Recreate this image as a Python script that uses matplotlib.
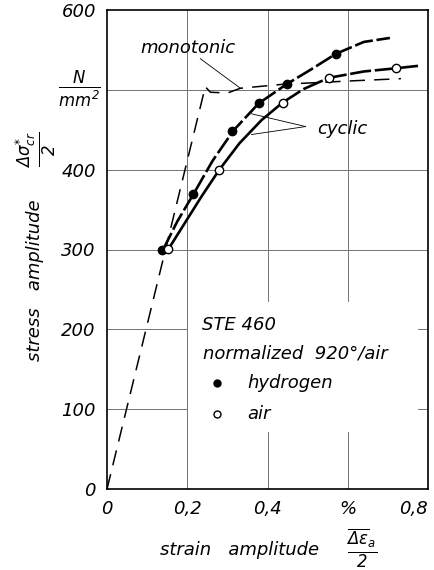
import matplotlib
matplotlib.use("Agg")
import matplotlib.pyplot as plt

plt.rcParams['font.family'] = ['DejaVu Sans']
plt.rcParams['font.style'] = 'italic'
plt.rcParams['mathtext.fontset'] = 'custom'
plt.rcParams['mathtext.rm'] = 'DejaVu Sans:italic'
plt.rcParams['mathtext.it'] = 'DejaVu Sans:italic'
plt.rcParams['mathtext.sf'] = 'DejaVu Sans:italic'

# ---- data ----
hydrogen_x = [0.1375, 0.215, 0.3125, 0.378, 0.4475, 0.57]
hydrogen_y = [299, 369, 448, 483, 507, 545]
air_x = [0.1525, 0.28, 0.4375, 0.5525, 0.72]
air_y = [301, 400, 484, 515, 527]

hydrogen_curve_x = [0.14, 0.175, 0.215, 0.263, 0.315, 0.378, 0.4475, 0.51, 0.57, 0.64, 0.705]
hydrogen_curve_y = [300, 335, 369, 411, 449, 483, 507, 526, 545, 560, 565]
air_curve_x = [0.1525, 0.19, 0.235, 0.28, 0.33, 0.385, 0.4375, 0.49, 0.5525, 0.64, 0.72, 0.775]
air_curve_y = [300, 330, 366, 400, 433, 462, 484, 501, 515, 523, 527, 530]
mono_x = [0.0, 0.245, 0.2575, 0.3, 0.3325, 0.44, 0.6, 0.7325]
mono_y = [0, 504, 497, 496, 502, 507, 511, 514]

x_ticks = [0, 0.2, 0.4, 0.6, 0.8]
x_tick_labels = ['0', '0,2', '0,4', '%', '0,8']
y_ticks = [0, 100, 200, 300, 400, 500, 600]
y_tick_labels = ['0', '100', '200', '300', '400', '', '600']

W, H = 435, 570
fig = plt.figure(figsize=(W / 100, H / 100), dpi=100)
ax = fig.add_axes([107 / W, (H - 489) / H, (428 - 107) / W, (489 - 10) / H])
ax.set_xlim(0, 0.8)
ax.set_ylim(0, 600)

# grid (with gaps like the reference)
gc, gw = '0.45', 0.7
for yv in [300, 400, 500]:
    ax.plot([0, 0.8], [yv, yv], color=gc, lw=gw, zorder=1)
for yv in [100, 200]:
    ax.plot([0, 0.2], [yv, yv], color=gc, lw=gw, zorder=1)
    ax.plot([0.775, 0.8], [yv, yv], color=gc, lw=gw, zorder=1)
ax.plot([0.2, 0.2], [0, 600], color=gc, lw=gw, zorder=1)
for xv in [0.4, 0.6]:
    ax.plot([xv, xv], [236, 600], color=gc, lw=gw, zorder=1)
    ax.plot([xv, xv], [0, 71], color=gc, lw=gw, zorder=1)

# monotonic curve
ax.plot(mono_x, mono_y, color='black', lw=1.1, dashes=(10, 6), zorder=2)

# cyclic curves
ax.plot(hydrogen_curve_x, hydrogen_curve_y, color='black', lw=1.9,
        dashes=(7, 1.4), zorder=3)
split = 7
ax.plot(air_curve_x[:split], air_curve_y[:split], color='black', lw=1.9,
        solid_capstyle='butt', zorder=3)
ax.plot(air_curve_x[split - 1:], air_curve_y[split - 1:], color='black', lw=1.9,
        dashes=(8, 1.4), zorder=3)

ax.plot(hydrogen_x, hydrogen_y, 'o', color='black', ms=6, zorder=4)
ax.plot(air_x, air_y, 'o', mfc='white', mec='black', mew=1.0, ms=6, zorder=4)

# annotations
ax.text(0.0825, 552, 'monotonic', fontsize=13, va='center', ha='left')
ax.plot([0.2325, 0.3325], [539, 502], color='black', lw=0.6, zorder=2)
ax.text(0.525, 451, 'cyclic', fontsize=13, va='center', ha='left')
ax.plot([0.495, 0.36], [454, 470], color='black', lw=0.6, zorder=2)
ax.plot([0.495, 0.36], [454, 444], color='black', lw=0.6, zorder=2)

# legend text
ax.text(0.2375, 205, 'STE 460', fontsize=13, va='center', ha='left')
ax.text(0.24, 170, 'normalized  920°/air', fontsize=13, va='center', ha='left')
ax.plot([0.275], [132.5], 'o', color='black', ms=5)
ax.text(0.35, 132.5, 'hydrogen', fontsize=13, va='center', ha='left')
ax.plot([0.275], [94], 'o', mfc='white', mec='black', mew=1.0, ms=5)
ax.text(0.35, 94, 'air', fontsize=13, va='center', ha='left')

# ticks
ax.set_xticks(x_ticks)
ax.set_xticklabels(x_tick_labels, fontsize=13)
ax.get_xticklabels()[-1].set_horizontalalignment('right')
ax.set_yticks(y_ticks)
ax.set_yticklabels(y_tick_labels, fontsize=13)
ax.tick_params(length=0, pad=8)
for s in ax.spines.values():
    s.set_linewidth(1.2)

# unit label
fig.text(79 / W, 1 - 89 / H, r'$\frac{N}{mm^2}$', fontsize=17, ha='center', va='center')

# y label
fig.text(35 / W, 1 - 280 / H, 'stress   amplitude', fontsize=13, rotation=90,
         ha='center', va='center')
fig.text(36 / W, 1 - 150 / H, r'$\frac{\Delta\sigma^{*}_{cr}}{2}$', fontsize=17,
         rotation=90, ha='center', va='center')

# x label
fig.text(240 / W, 1 - 550 / H, 'strain   amplitude', fontsize=13, ha='center', va='center')
fig.text(362 / W, 1 - 548 / H, r'$\frac{\overline{\Delta\varepsilon}_{a}}{2}$', fontsize=17,
         ha='center', va='center')

fig.savefig('out.png', dpi=100)
